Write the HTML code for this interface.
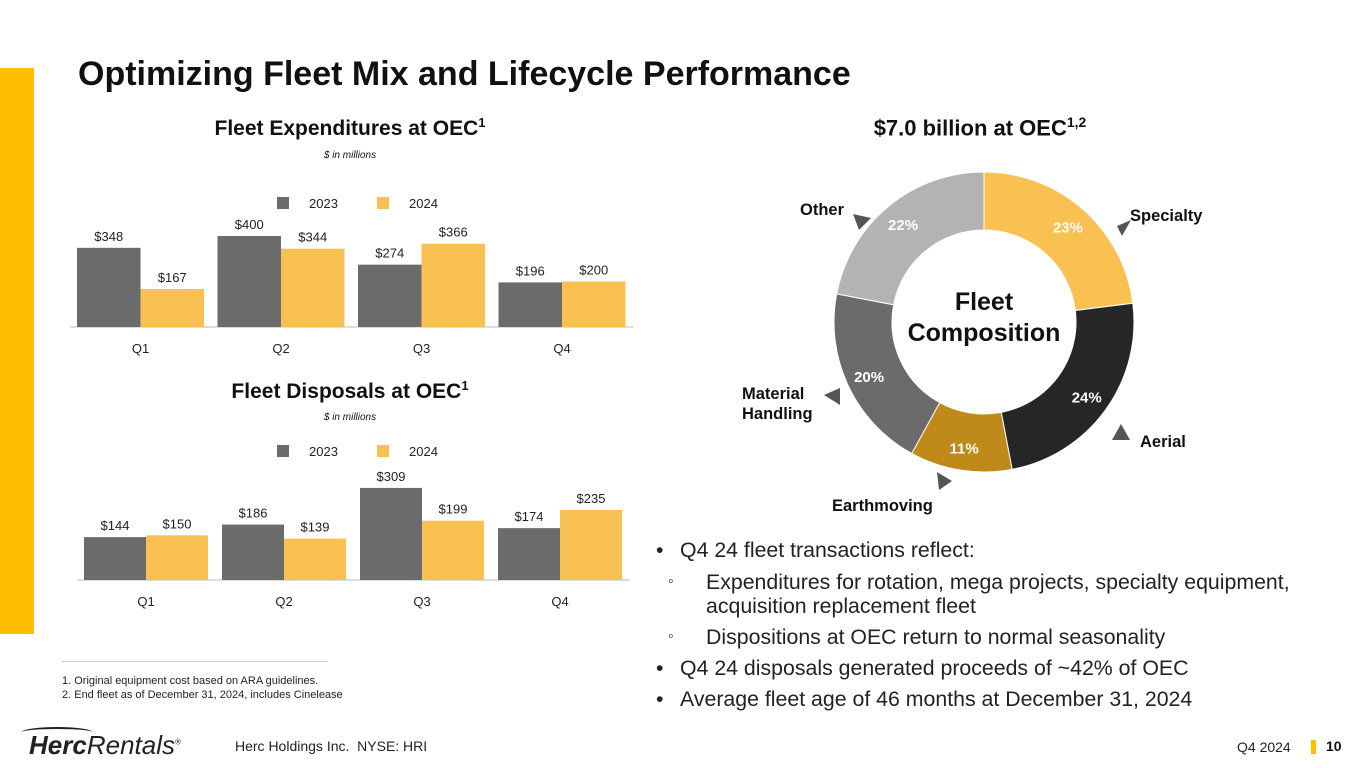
<!DOCTYPE html>
<html><head><meta charset="utf-8">
<style>
body{margin:0;width:1365px;height:768px;position:relative;background:#fff;font-family:"Liberation Sans",Arial,sans-serif;overflow:hidden;color:#111}
.abs{position:absolute}
.b{font-weight:bold}
.sub{display:flex;margin-top:7px;padding-left:12px}
.sub span.m{width:38px;flex:none;font-size:16px}
</style></head>
<body>
<div class="abs" style="left:0;top:68px;width:34px;height:566px;background:#FFBE00"></div>
<div class="abs b" style="left:78px;top:55px;font-size:34px;color:#111">Optimizing Fleet Mix and Lifecycle Performance</div>

<div class="abs b" style="left:150px;top:115px;width:400px;text-align:center;font-size:21px">Fleet Expenditures at OEC<sup style="font-size:13px">1</sup></div>
<div class="abs" style="left:200px;top:150px;width:300px;text-align:center;font-size:10px;font-style:italic">$ in millions</div>
<div class="abs b" style="left:150px;top:378px;width:400px;text-align:center;font-size:21px">Fleet Disposals at OEC<sup style="font-size:13px">1</sup></div>
<div class="abs" style="left:200px;top:412px;width:300px;text-align:center;font-size:10px;font-style:italic">$ in millions</div>

<svg class="abs" style="left:0;top:0" width="1365" height="768" id="svg"></svg>

<div class="abs b" style="left:780px;top:114px;width:400px;text-align:center;font-size:22px">$7.0 billion at OEC<sup style="font-size:14px">1,2</sup></div>

<div class="abs" style="left:656px;top:538px;width:690px;font-size:21.3px;line-height:24px;color:#222">
<div><span style="display:inline-block;width:24px">•</span>Q4 24 fleet transactions reflect:</div>
<div class="sub" style="margin-top:8px;width:640px"><span class="m">◦</span><span>Expenditures for rotation, mega projects, specialty equipment, acquisition replacement fleet</span></div>
<div class="sub"><span class="m">◦</span><span>Dispositions at OEC return to normal seasonality</span></div>
<div style="margin-top:7px"><span style="display:inline-block;width:24px">•</span>Q4 24 disposals generated proceeds of ~42% of OEC</div>
<div style="margin-top:7px"><span style="display:inline-block;width:24px">•</span>Average fleet age of 46 months at December 31, 2024</div>
</div>

<div class="abs" style="left:62px;top:661px;width:266px;height:1px;background:#ccc"></div>
<div class="abs" style="left:62px;top:674px;font-size:11px;line-height:14px;color:#222">1. Original equipment cost based on ARA guidelines.<br>2. End fleet as of December 31, 2024, includes Cinelease</div>

<div class="abs" style="left:29px;top:730px;font-size:26px;font-style:italic;color:#222"><span class="b">Herc</span>Rentals<sup style="font-size:8px">®</sup></div>
<div class="abs" style="left:22px;top:727px;width:70px;height:8px;border-top:2px solid #222;border-radius:50% 50% 0 0"></div>
<div class="abs" style="left:235px;top:738px;font-size:14px;color:#222">Herc Holdings Inc.&nbsp; NYSE: HRI</div>
<div class="abs" style="left:1237px;top:739px;font-size:14px;color:#222">Q4 2024</div>
<div class="abs" style="left:1311px;top:740px;width:5px;height:14px;background:#FFBE00"></div>
<div class="abs b" style="left:1326px;top:738px;font-size:14px">10</div>

<script>
const quarters=["Q1","Q2","Q3","Q4"];
const exp2023=[348,400,274,196];
const exp2024=[167,344,366,200];
const disp2023=[144,186,309,174];
const disp2024=[150,139,199,235];
const seriesNames=["2023","2024"];
const donutCats=["Specialty","Aerial","Earthmoving","Material Handling","Other"];
const donutVals=[23,24,11,20,22];

const NS="http://www.w3.org/2000/svg";
const svg=document.getElementById("svg");
function mk(t,a,txt){const e=document.createElementNS(NS,t);for(const k in a)e.setAttribute(k,a[k]);if(txt!==undefined)e.textContent=txt;svg.appendChild(e);return e;}
const C23="#6b6b6b",C24="#F9C152";

function barChart(prefix,a,b,base,scale,x0,step,bw,axisX0,axisX1,legendY){
  const y=v=>base-v*scale;
  const ax=mk("line",{x1:axisX0,x2:axisX1,y1:base,y2:base,stroke:"#bbb","stroke-width":1});
  
  
  quarters.forEach((q,i)=>{
    const gx=x0+i*step;
    [[a,C23,0,"2023"],[b,C24,1,"2024"]].forEach(([arr,col,k,s])=>{
      const v=arr[i];
      const r=mk("rect",{x:gx+k*bw,y:y(v),width:bw,height:v*scale,fill:col});
      
      
      const t=mk("text",{x:gx+k*bw+bw/2,y:y(v)-7,"text-anchor":"middle","font-size":13,fill:"#222"},"$"+v);
      
      
    });
    const l=mk("text",{x:gx+bw,y:base+26,"text-anchor":"middle","font-size":13,fill:"#222"},q);
    
    
  });
  seriesNames.forEach((s,k)=>{
    const lx=277+k*100;
    const r=mk("rect",{x:lx,y:legendY-6,width:12,height:12,fill:k?C24:C23});
    
    
    const t=mk("text",{x:lx+32,y:legendY+5,"font-size":13,fill:"#222"},s);
    
    
  });
}
barChart("expenditures",exp2023,exp2024,327,0.2275,77,140.5,63.5,70,633,203);
barChart("disposals",disp2023,disp2024,580,0.298,84,138,62,77,630,451);

const cx=984,cy=322,R=150,r=92;
const cols=["#F9C152","#262626","#BF8A1A","#6b6b6b","#b3b3b3"];
const total=donutVals.reduce((s,v)=>s+v,0);
let acc=0;
const pt=(ang,rad)=>[cx+rad*Math.sin(ang),cy-rad*Math.cos(ang)];
donutVals.forEach((v,i)=>{
  const a0=acc/total*2*Math.PI;acc+=v;const a1=acc/total*2*Math.PI;
  const big=(a1-a0)>Math.PI?1:0;
  const [x0,y0]=pt(a0,R),[x1,y1]=pt(a1,R),[x2,y2]=pt(a1,r),[x3,y3]=pt(a0,r);
  const p=mk("path",{d:`M${x0},${y0}A${R},${R} 0 ${big} 1 ${x1},${y1}L${x2},${y2}A${r},${r} 0 ${big} 0 ${x3},${y3}Z`,fill:cols[i],stroke:"#fff","stroke-width":1});
  
  
  const am=(a0+a1)/2;const [lx,ly]=pt(am,(R+r)/2+6);
  const t=mk("text",{x:lx,y:ly+6,"text-anchor":"middle","font-size":15,"font-weight":"bold",fill:"#fff"},v+"%");
  
  
});
const c1=mk("text",{x:cx,y:310,"text-anchor":"middle","font-size":25,"font-weight":"bold",fill:"#111"},"Fleet");


const c2=mk("text",{x:cx,y:341,"text-anchor":"middle","font-size":25,"font-weight":"bold",fill:"#111"},"Composition");


const labs=[
 {t:["Specialty"],x:1130,y:221,tri:"1117,226 1131,220 1122,236"},
 {t:["Aerial"],x:1140,y:447,tri:"1112,440 1130,440 1121,424"},
 {t:["Earthmoving"],x:832,y:511,tri:"937,472 952,481 939,490"},
 {t:["Material","Handling"],x:742,y:399,tri:"824,395 840,388 840,405"},
 {t:["Other"],x:800,y:215,tri:"853,214 871,218 859,230"}
];
labs.forEach((L,i)=>{
  L.t.forEach((s,j)=>{
    const t=mk("text",{x:L.x,y:L.y+j*20,"text-anchor":"start","font-size":16.5,"font-weight":"bold",fill:"#111"},s);
    
    
  });
  const p=mk("polygon",{points:L.tri,fill:"#555"});
  
  
});
</script>
</body></html>
